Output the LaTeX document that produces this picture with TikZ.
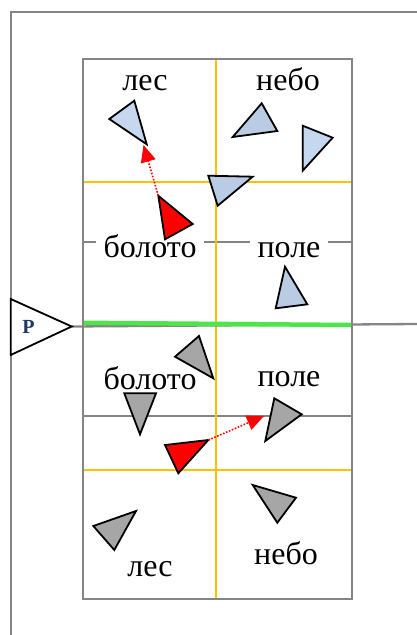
\documentclass[tikz,border=0pt]{standalone}
\usepackage{fontspec}
\setmainfont{Liberation Serif}
\usetikzlibrary{arrows.meta}
\definecolor{framegray}{HTML}{858585}
\definecolor{gold}{HTML}{FFC000}
\definecolor{grn}{HTML}{4CE64C}
\definecolor{blueA}{HTML}{C6D8EF}
\definecolor{blueB}{HTML}{B9CCE4}
\definecolor{gtri}{HTML}{A6A6A6}
\definecolor{pblue}{HTML}{1F3864}
\begin{document}
\begin{tikzpicture}[x=1pt,y=-1pt,
  grayline/.style={draw=framegray,line width=2.3pt},
  goldline/.style={draw=gold,line width=2.5pt},
  greenline/.style={draw=grn,line width=4.5pt},
  tri/.style={draw=black,line width=1.8pt,line join=miter},
  lbl/.style={anchor=base,inner xsep=8pt,inner ysep=2pt,font=\fontsize{32}{36}\selectfont},
  movearrow/.style={draw=red,line width=1.6pt,dash pattern=on 1.6pt off 1.6pt,
    -{Triangle[length=17pt,width=15pt,fill=red,color=red]}}
]
\useasboundingbox (0,0) rectangle (417,635);
% outer frame
\coordinate (ftl) at (11,12);
\coordinate (ftr) at (417,12);
\coordinate (fbl) at (11,635);
\draw[grayline] (fbl) -- (ftl) -- (ftr);
% grid
\draw[grayline] (83,59) rectangle (352,599);
\draw[grayline] (83,242) -- (352,242);
\draw[grayline] (83,416) -- (352,416);
\draw[goldline] (216,60) -- (216,598);
\draw[goldline] (84,182) -- (351,182);
\draw[goldline] (84,470) -- (351,470);
% P marker and border line
\coordinate (pa) at (10.7,299);
\coordinate (ptip) at (71.7,326.5);
\coordinate (pb) at (10.7,355);
\coordinate (east) at (417,324);
\draw[grayline] (ptip) -- (east);
\draw[greenline] (84,322.8) -- (351,325);
\draw[tri,fill=white] (pa) -- (ptip) -- (pb) -- cycle;
\node[font=\fontsize{20}{22}\selectfont\bfseries,text=pblue] (P) at (28.5,326.5) {Р};
% labels
\node[lbl] (les1) at (145,90) {лес};
\node[lbl] (nebo1) at (288,90) {небо};
\node[lbl,fill=white] (bol1) at (150,257) {болото};
\node[lbl,fill=white] (pole1) at (289,257) {поле};
\node[lbl] (bol2) at (150,389) {болото};
\node[lbl] (pole2) at (289,386) {поле};
\node[lbl] (les2) at (150,576) {лес};
\node[lbl] (nebo2) at (286,564) {небо};
% upper triangles
\draw[tri,fill=blueA] (109.3,119) -- (134.3,100.7) -- (146.7,144.3) -- cycle;
\draw[tri,fill=blueB] (232.7,137) -- (261.7,103.3) -- (277.3,131) -- cycle;
\draw[tri,fill=blueA] (302.7,125.7) -- (332.7,137.7) -- (302.7,170.7) -- cycle;
\draw[tri,fill=blueB] (208.3,175.7) -- (252.7,176.7) -- (217.7,205.7) -- cycle;
\draw[tri,fill=blueB] (285,266.7) -- (307.3,304.3) -- (275.7,308.3) -- cycle;
\coordinate (r1) at (158.3,195.7);
\draw[tri,fill=red] (r1) -- (192.7,224) -- (165,239.3) -- cycle;
% lower triangles
\draw[tri,fill=gtri] (175,356.7) -- (199,336) -- (213.3,378.3) -- cycle;
\draw[tri,fill=gtri] (124.3,393.3) -- (156,393.3) -- (140,434.3) -- cycle;
\draw[tri,fill=gtri] (274.3,398.3) -- (301.7,414.3) -- (265.3,441) -- cycle;
\draw[tri,fill=gtri] (93.3,526) -- (136,511) -- (114.3,550) -- cycle;
\draw[tri,fill=gtri] (252.7,485) -- (296,497.7) -- (277.3,522.7) -- cycle;
\coordinate (r2) at (208.3,440);
\draw[tri,fill=red] (165,445) -- (r2) -- (178.3,473.3) -- cycle;
% moves
\coordinate (a1) at (143.5,145);
\coordinate (a2) at (264,416);
\draw[movearrow] (r1) -- (a1);
\draw[movearrow] (r2) -- (a2);
\end{tikzpicture}
\end{document}
